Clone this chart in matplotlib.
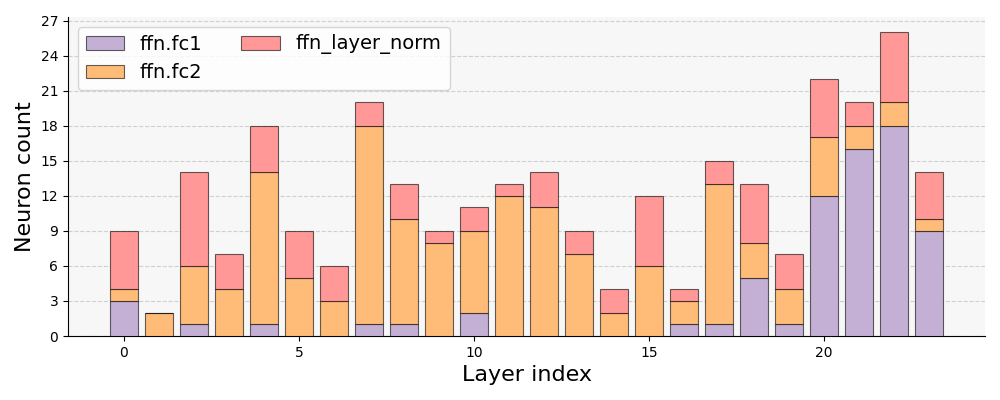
import matplotlib
matplotlib.use("Agg")
import matplotlib.pyplot as plt
from matplotlib.ticker import MultipleLocator
import numpy as np

layers = list(range(24))
fc1 = [3, 0, 1, 0, 1, 0, 0, 1, 1, 0, 2, 0, 0, 0, 0, 0, 1, 1, 5, 1, 12, 16, 18, 9]
fc2 = [1, 2, 5, 4, 13, 5, 3, 17, 9, 8, 7, 12, 11, 7, 2, 6, 2, 12, 3, 3, 5, 2, 2, 1]
norm = [5, 0, 8, 3, 4, 4, 3, 2, 3, 1, 2, 1, 3, 2, 2, 6, 1, 2, 5, 3, 5, 2, 6, 4]
labels = ["ffn.fc1", "ffn.fc2", "ffn_layer_norm"]
colors = ["#c5b0d5", "#ffbb78", "#ff9896"]

fig, ax = plt.subplots(figsize=(10, 4), dpi=100)
ax.set_facecolor("#f7f7f7")
x = np.array(layers)
bottom = np.zeros(len(x))
for vals, lab, c in zip([fc1, fc2, norm], labels, colors):
    ax.bar(x, vals, width=0.8, bottom=bottom, color=c, label=lab,
           edgecolor=(0, 0, 0, 0.6), linewidth=0.8, zorder=3)
    bottom += np.array(vals)

ax.yaxis.set_major_locator(MultipleLocator(3))
ax.grid(axis="y", linestyle="--", color="#d0d0d0", linewidth=0.8, zorder=0)
ax.spines["top"].set_visible(False)
ax.spines["right"].set_visible(False)
ax.set_xlabel("Layer index", fontsize=16)
ax.set_ylabel("Neuron count", fontsize=16)
ax.tick_params(labelsize=10)
ax.legend(ncol=2, loc="upper left", fontsize=14)
fig.subplots_adjust(left=0.068, right=0.985, bottom=0.16, top=0.9575)
fig.savefig("out.png", dpi=100)
